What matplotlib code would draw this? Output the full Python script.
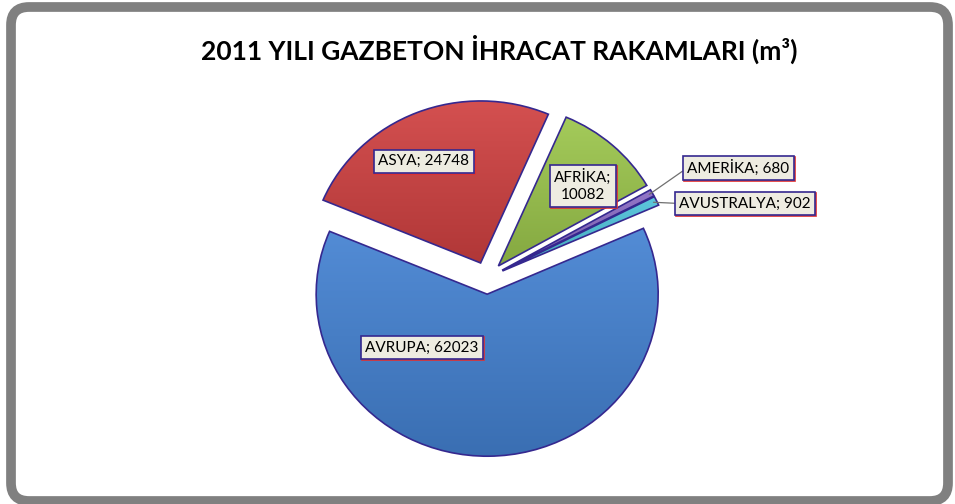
import matplotlib
matplotlib.use("Agg")
import matplotlib.pyplot as plt
import matplotlib.patches as mpatches
import matplotlib.transforms as mtransforms
from matplotlib.colors import LinearSegmentedColormap, to_rgb
import numpy as np

# data
regions = ["AVRUPA", "ASYA", "AFRİKA", "AMERİKA", "AVUSTRALYA"]
values = [62023, 24748, 10082, 680, 902]
colors = ["#4482D2", "#D04141", "#9CC64C", "#8A6BC4", "#4FC3DA"]
title = "2011 YILI GAZBETON İHRACAT RAKAMLARI (m³)"

# label positions in data units (layout only)
label_pos = [(-0.38, -0.43), (-0.37, 0.72), (0.56, 0.57), (1.47, 0.68), (1.51, 0.46)]
label_text = ["AVRUPA; 62023", "ASYA; 24748", "AFRİKA;\n10082", "AMERİKA; 680", "AVUSTRALYA; 902"]

W, H = 955, 504
fig = plt.figure(figsize=(W / 100, H / 100), dpi=100)
fig.patch.set_facecolor("white")

# background axes for the rounded frame
bg = fig.add_axes([0, 0, 1, 1])
bg.set_xlim(0, W)
bg.set_ylim(0, H)
bg.axis("off")
frame = mpatches.FancyBboxPatch(
    (11 + 18, 3 + 18), W - 11 - 7 - 36, H - 3 - 7 - 36,
    boxstyle=mpatches.BoxStyle("Round", pad=18),
    facecolor="white", edgecolor="#808080", linewidth=7,
)
bg.add_patch(frame)

bg.text(499, 455, title, ha="center", va="center", fontsize=19,
        fontweight="bold", family="Lato", color="black")

# pie axes: center at (487, 226) px, rx=171, ry=162
cx, cy, rx, ry = 487, 226, 171, 162
xl, yl = 1.5, 1.4
ax = fig.add_axes([(cx - xl * rx) / W, (cy - yl * ry) / H, 2 * xl * rx / W, 2 * yl * ry / H])
wedges, _ = ax.pie(
    values, colors=colors, startangle=24, counterclock=False,
    explode=[0.1] * len(values), radius=1,
    wedgeprops=dict(edgecolor="#35288F", linewidth=1.2),
)


def mix(c, other, t):
    c = np.array(to_rgb(c))
    return tuple(c * (1 - t) + np.array(other) * t)


# Excel-like vertical shading: lighter on top, darker at bottom
grad = np.linspace(0, 1, 256).reshape(-1, 1)
for w, c in zip(wedges, colors):
    x0, y0, x1, y1 = w.get_path().get_extents().extents
    cmap = LinearSegmentedColormap.from_list("g", [mix(c, (0, 0, 0), 0.15), mix(c, (1, 1, 1), 0.08)])
    im = ax.imshow(grad, extent=[x0, x1, y0, y1], origin="lower", cmap=cmap,
                   aspect="auto", zorder=1, interpolation="bilinear")
    im.set_clip_path(w)
    w.set_facecolor("none")
    w.set_zorder(2)

ax.set_aspect("auto")
ax.set_xlim(-xl, xl)
ax.set_ylim(-yl, yl)
ax.axis("off")

box_face = "#EEECE1"
for i, (w, txt, pos) in enumerate(zip(wedges, label_text, label_pos)):
    # red box offset down-right, navy box on top
    shadow = mtransforms.offset_copy(ax.transData, fig=fig, x=0.8, y=-0.8, units="points")
    ax.text(pos[0], pos[1], txt, transform=shadow, ha="center", va="center", zorder=3,
            fontsize=11, family="Lato", color="black", linespacing=1.3,
            bbox=dict(boxstyle="square,pad=0.28", facecolor=box_face, edgecolor="#E03030", linewidth=1.2))
    if i >= 3:
        theta = np.deg2rad((w.theta1 + w.theta2) / 2)
        tip = (1.08 * np.cos(theta), 1.08 * np.sin(theta))
        ax.annotate(txt, xy=tip, xytext=pos, ha="center", va="center", zorder=4,
                    fontsize=11, family="Lato", color="black",
                    bbox=dict(boxstyle="square,pad=0.28", facecolor=box_face, edgecolor="#35288F", linewidth=1.2),
                    arrowprops=dict(arrowstyle="-", color="#707070", lw=0.9, relpos=(0, 0.5),
                                    shrinkA=0, shrinkB=0))
    else:
        ax.text(pos[0], pos[1], txt, ha="center", va="center", zorder=4,
                fontsize=11, family="Lato", color="black", linespacing=1.3,
                bbox=dict(boxstyle="square,pad=0.28", facecolor=box_face, edgecolor="#35288F", linewidth=1.2))

fig.savefig("out.png", dpi=100)
